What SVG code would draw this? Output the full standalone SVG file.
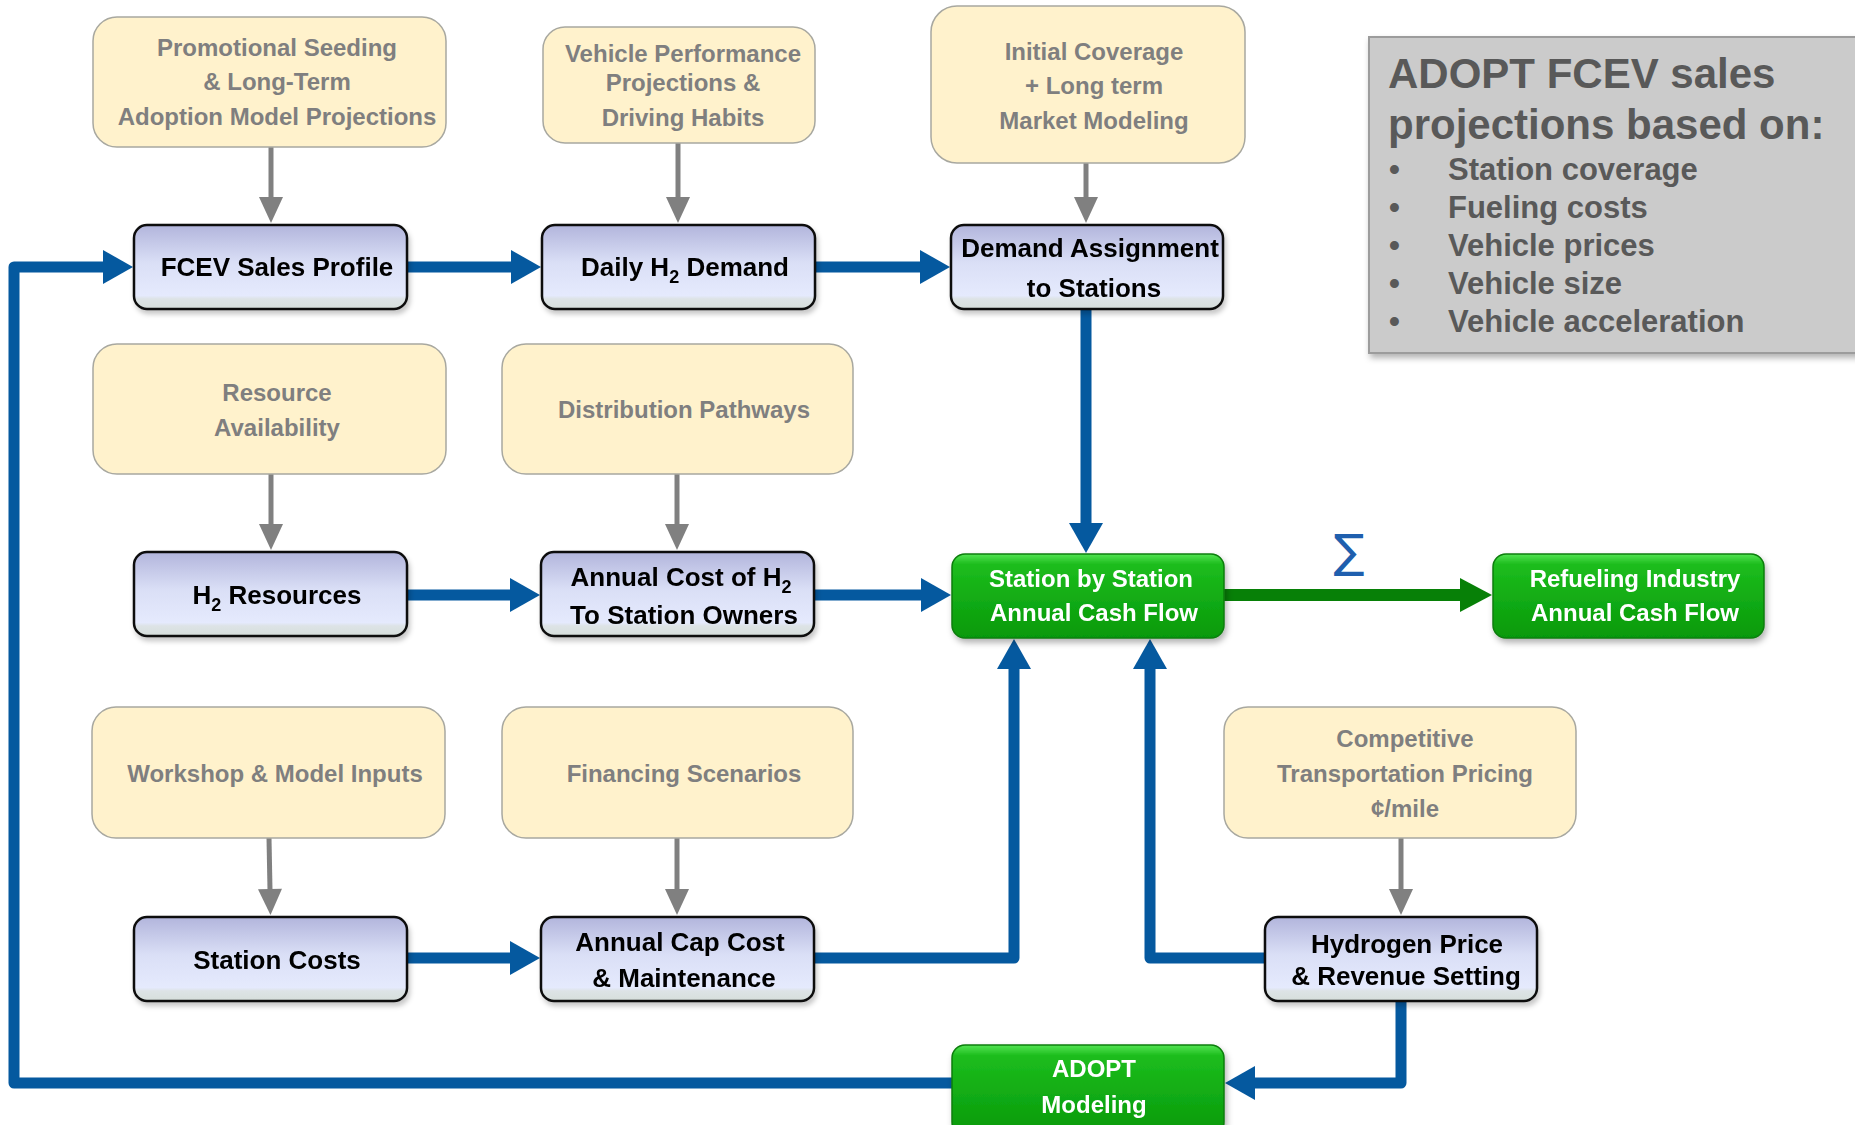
<svg xmlns="http://www.w3.org/2000/svg" width="1855" height="1125" viewBox="0 0 1855 1125">
<defs>
<style>
.t{font-family:"Liberation Sans",Arial,sans-serif;font-weight:bold;text-anchor:middle}
.bn{font-size:26px;fill:#000}
.gn{font-size:24px;fill:#fff}
.yn{font-size:24px;fill:#7f7f7f}
.ybox{fill:#fff2cc;stroke:#a8a8a0;stroke-width:1.5}
.bbox{fill:url(#gb);stroke:#111;stroke-width:2.5}
.gbox{fill:url(#gg);stroke:#0b7d0b;stroke-width:1.5}
.bl{fill:none;stroke:#05599f;stroke-width:11;stroke-linejoin:round}
.gl{fill:none;stroke:#808080;stroke-width:5}
.side{font-family:"Liberation Sans",Arial,sans-serif;font-weight:bold;fill:#595959}
</style>
<linearGradient id="gb" x1="0" y1="0" x2="0" y2="1">
<stop offset="0" stop-color="#b2b5dc"/>
<stop offset="0.45" stop-color="#dadff6"/>
<stop offset="0.84" stop-color="#e5eafd"/>
<stop offset="0.88" stop-color="#dde3e6"/>
<stop offset="1" stop-color="#d6dedb"/>
</linearGradient>
<linearGradient id="gg" x1="0" y1="0" x2="0" y2="1">
<stop offset="0" stop-color="#52e452"/>
<stop offset="0.12" stop-color="#1dbd1d"/>
<stop offset="1" stop-color="#06990a"/>
</linearGradient>
<filter id="sh" x="-10%" y="-10%" width="125%" height="135%">
<feDropShadow dx="2" dy="4" stdDeviation="3" flood-color="#000" flood-opacity="0.3"/>
</filter>
<filter id="shl" x="-10%" y="-30%" width="120%" height="200%">
<feDropShadow dx="2" dy="4" stdDeviation="2.5" flood-color="#000" flood-opacity="0.22"/>
</filter>
<marker id="ab" markerUnits="userSpaceOnUse" markerWidth="32" markerHeight="34" refX="1" refY="17" orient="auto" overflow="visible">
<path d="M0,0 L30,17 L0,34 Z" fill="#05599f"/>
</marker>
<marker id="ag" markerUnits="userSpaceOnUse" markerWidth="28" markerHeight="26" refX="1" refY="12" orient="auto" overflow="visible">
<path d="M0,0 L26,12 L0,24 Z" fill="#808080"/>
</marker>
<marker id="agr" markerUnits="userSpaceOnUse" markerWidth="34" markerHeight="36" refX="1" refY="17" orient="auto" overflow="visible">
<path d="M0,0 L32,17 L0,34 Z" fill="#078007"/>
</marker>
</defs>
<rect width="1855" height="1125" fill="#fff"/>

<g id="side-panel">
<rect x="1369" y="37" width="492" height="316" fill="#cbcbcb" stroke="#9c9c9c" stroke-width="2" filter="url(#sh)"/>
<text class="side" x="1388" y="88" font-size="42">ADOPT FCEV sales</text>
<text class="side" x="1388" y="139" font-size="42">projections based on:</text>
<g font-size="31">
<text class="side" x="1389" y="180">•</text><text class="side" x="1448" y="180">Station coverage</text>
<text class="side" x="1389" y="218">•</text><text class="side" x="1448" y="218">Fueling costs</text>
<text class="side" x="1389" y="256">•</text><text class="side" x="1448" y="256">Vehicle prices</text>
<text class="side" x="1389" y="294">•</text><text class="side" x="1448" y="294">Vehicle size</text>
<text class="side" x="1389" y="332">•</text><text class="side" x="1448" y="332">Vehicle acceleration</text>
</g>
</g>

<g id="connectors">
<path class="gl" d="M271,147 V198" marker-end="url(#ag)"/>
<path class="gl" d="M678,143 V198" marker-end="url(#ag)"/>
<path class="gl" d="M1086,163 V198" marker-end="url(#ag)"/>
<path class="gl" d="M271,474 V525" marker-end="url(#ag)"/>
<path class="gl" d="M677,474 V525" marker-end="url(#ag)"/>
<path class="gl" d="M269,838 L270,890" marker-end="url(#ag)"/>
<path class="gl" d="M677,838 V890" marker-end="url(#ag)"/>
<path class="gl" d="M1401,838 V890" marker-end="url(#ag)"/>

<path class="bl" d="M952,1083 H14 V267 H104" marker-end="url(#ab)"/>
<path class="bl" d="M407,267 H512" marker-end="url(#ab)"/>
<path class="bl" d="M815,267 H921" marker-end="url(#ab)"/>
<path class="bl" d="M1086,309 V524" marker-end="url(#ab)"/>
<path class="bl" d="M407,595 H511" marker-end="url(#ab)"/>
<path class="bl" d="M814,595 H922" marker-end="url(#ab)"/>
<path class="bl" d="M407,958 H511" marker-end="url(#ab)"/>
<path class="bl" d="M814,958 H1014 V668" marker-end="url(#ab)"/>
<path class="bl" d="M1265,958 H1150 V668" marker-end="url(#ab)"/>
<path class="bl" d="M1401,1001 V1083 H1254" marker-end="url(#ab)"/>

<path d="M1224,595 H1461" fill="none" stroke="#078007" stroke-width="12" marker-end="url(#agr)"/>
<text x="1349" y="567" font-family="'DejaVu Sans','Liberation Sans',sans-serif" font-size="46" fill="#1f5fae" text-anchor="middle">∑</text>
</g>

<g id="n-promo">
<rect class="ybox" x="93" y="17" width="353" height="130" rx="24"/>
<text class="t yn" x="277" y="56">Promotional Seeding</text>
<text class="t yn" x="277" y="90">&amp; Long-Term</text>
<text class="t yn" x="277" y="125">Adoption Model Projections</text>
</g>
<g id="n-vehperf">
<rect class="ybox" x="543" y="27" width="272" height="116" rx="22"/>
<text class="t yn" x="683" y="62">Vehicle Performance</text>
<text class="t yn" x="683" y="91">Projections &amp;</text>
<text class="t yn" x="683" y="126">Driving Habits</text>
</g>
<g id="n-initcov">
<rect class="ybox" x="931" y="6" width="314" height="157" rx="26"/>
<text class="t yn" x="1094" y="60">Initial Coverage</text>
<text class="t yn" x="1094" y="94">+ Long term</text>
<text class="t yn" x="1094" y="129">Market Modeling</text>
</g>
<g id="n-resavail">
<rect class="ybox" x="93" y="344" width="353" height="130" rx="24"/>
<text class="t yn" x="277" y="401">Resource</text>
<text class="t yn" x="277" y="436">Availability</text>
</g>
<g id="n-distpath">
<rect class="ybox" x="502" y="344" width="351" height="130" rx="24"/>
<text class="t yn" x="684" y="418">Distribution Pathways</text>
</g>
<g id="n-workshop">
<rect class="ybox" x="92" y="707" width="353" height="131" rx="24"/>
<text class="t yn" x="275" y="782">Workshop &amp; Model Inputs</text>
</g>
<g id="n-financing">
<rect class="ybox" x="502" y="707" width="351" height="131" rx="24"/>
<text class="t yn" x="684" y="782">Financing Scenarios</text>
</g>
<g id="n-competitive">
<rect class="ybox" x="1224" y="707" width="352" height="131" rx="24"/>
<text class="t yn" x="1405" y="747">Competitive</text>
<text class="t yn" x="1405" y="782">Transportation Pricing</text>
<text class="t yn" x="1405" y="817">¢/mile</text>
</g>

<g id="n-fcev" filter="url(#shl)">
<rect class="bbox" x="134" y="225" width="273" height="84" rx="13"/>
<text class="t bn" x="277" y="276">FCEV Sales Profile</text>
</g>
<g id="n-daily" filter="url(#shl)">
<rect class="bbox" x="542" y="225" width="273" height="84" rx="13"/>
<text class="t bn" x="685" y="276">Daily H<tspan font-size="18" dy="7">2</tspan><tspan dy="-7"> Demand</tspan></text>
</g>
<g id="n-demassign" filter="url(#shl)">
<rect class="bbox" x="951" y="225" width="272" height="84" rx="13"/>
<text class="t bn" x="1090" y="257">Demand Assignment</text>
<text class="t bn" x="1094" y="297">to Stations</text>
</g>
<g id="n-h2res" filter="url(#shl)">
<rect class="bbox" x="134" y="552" width="273" height="84" rx="13"/>
<text class="t bn" x="277" y="604">H<tspan font-size="18" dy="7">2</tspan><tspan dy="-7"> Resources</tspan></text>
</g>
<g id="n-annualh2" filter="url(#shl)">
<rect class="bbox" x="541" y="552" width="273" height="84" rx="13"/>
<text class="t bn" x="681" y="586">Annual Cost of H<tspan font-size="18" dy="7">2</tspan></text>
<text class="t bn" x="684" y="624">To Station Owners</text>
</g>
<g id="n-stationcf" filter="url(#sh)">
<rect class="gbox" x="952" y="554" width="272" height="84" rx="13"/>
<text class="t gn" x="1091" y="587">Station by Station</text>
<text class="t gn" x="1094" y="621">Annual Cash Flow</text>
</g>
<g id="n-industrycf" filter="url(#sh)">
<rect class="gbox" x="1493" y="554" width="271" height="84" rx="13"/>
<text class="t gn" x="1635" y="587">Refueling Industry</text>
<text class="t gn" x="1635" y="621">Annual Cash Flow</text>
</g>
<g id="n-stcosts" filter="url(#shl)">
<rect class="bbox" x="134" y="917" width="273" height="84" rx="13"/>
<text class="t bn" x="277" y="969">Station Costs</text>
</g>
<g id="n-capcost" filter="url(#shl)">
<rect class="bbox" x="541" y="917" width="273" height="84" rx="13"/>
<text class="t bn" x="680" y="951">Annual Cap Cost</text>
<text class="t bn" x="684" y="987">&amp; Maintenance</text>
</g>
<g id="n-h2price" filter="url(#shl)">
<rect class="bbox" x="1265" y="917" width="272" height="84" rx="13"/>
<text class="t bn" x="1407" y="953">Hydrogen Price</text>
<text class="t bn" x="1406" y="985">&amp; Revenue Setting</text>
</g>
<g id="n-adopt" filter="url(#sh)">
<rect class="gbox" x="952" y="1045" width="272" height="90" rx="13"/>
<text class="t gn" x="1094" y="1077">ADOPT</text>
<text class="t gn" x="1094" y="1113">Modeling</text>
</g>
</svg>
